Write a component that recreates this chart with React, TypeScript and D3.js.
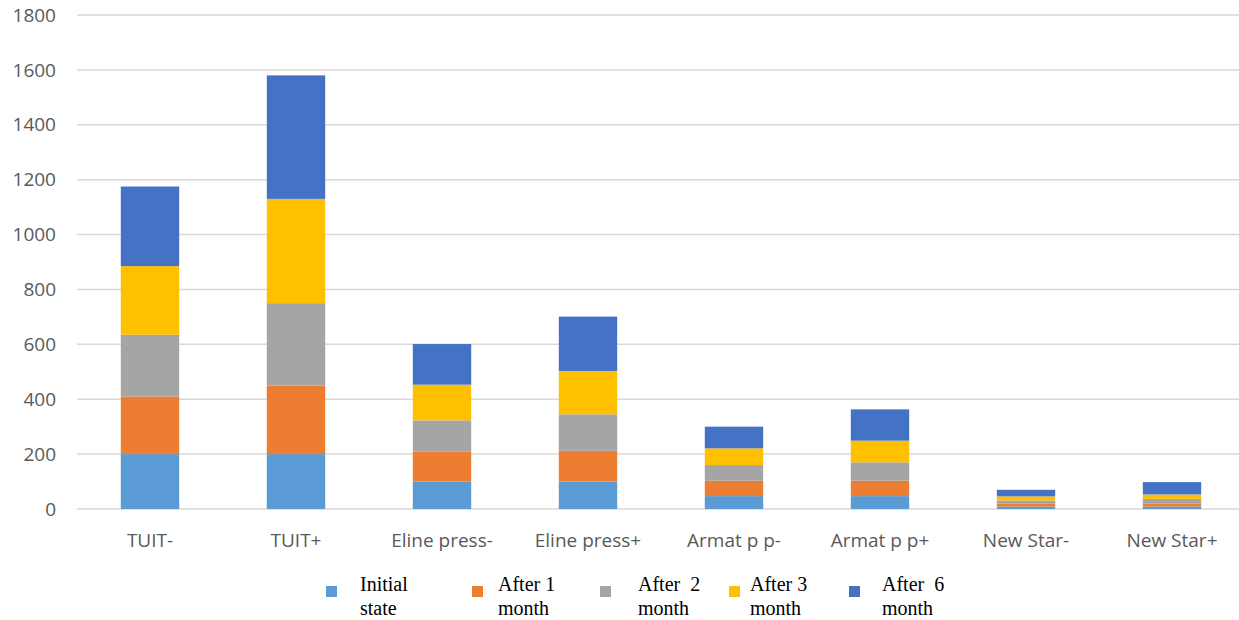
import React from "react";
import * as d3 from "d3";

const categories = ["TUIT-", "TUIT+", "Eline press-", "Eline press+", "Armat p p-", "Armat p p+", "New Star-", "New Star+"];
const seriesNames = ["Initial state", "After 1 month", "After  2 month", "After 3 month", "After  6 month"];
const initialState = [200, 200, 100, 100, 47, 47, 9, 9];
const after1 = [210, 250, 110, 112, 56, 56, 10, 10];
const after2 = [225, 300, 113, 133, 57, 67, 12, 18];
const after3 = [250, 380, 130, 158, 61, 79, 15, 16];
const after6 = [290, 450, 148, 198, 79, 114, 24, 45];
const yTicks = [0, 200, 400, 600, 800, 1000, 1200, 1400, 1600, 1800];
const colors = ["#5B9BD5", "#ED7D31", "#A5A5A5", "#FFC000", "#4472C4"];
const legendLines = [["Initial", "state"], ["After 1", "month"], ["After  2", "month"], ["After 3", "month"], ["After  6", "month"]];

export default function App() {
  const W = 1239, H = 620;
  const seriesVals = [initialState, after1, after2, after3, after6];
  const rows = categories.map((c, i) => {
    const r: any = { cat: c };
    seriesNames.forEach((s, j) => (r[s] = seriesVals[j][i]));
    return r;
  });
  const stack = d3.stack<any>().keys(seriesNames)(rows);
  const x = d3.scaleBand().domain(categories).range([77, 1245]).paddingInner(0.6).paddingOuter(0.3);
  const y = d3.scaleLinear().domain([0, 1800]).range([509, 15]);
  const legendX = [326, 472, 600, 729, 849];
  const legendTextX = [360, 498, 638, 750, 882];

  return (
    <svg width={W} height={H} style={{ position: "absolute", left: 0, top: 0, background: "#fff" }}>
      {yTicks.map((t) => (
        <g key={t}>
          <line x1={77} x2={1239} y1={y(t)} y2={y(t)} stroke="#d9d9d9" strokeWidth={1.5} />
          <text x={56} y={y(t)} dy="0.35em" textAnchor="end" fontFamily="Open Sans, sans-serif" fontSize={19} fill="#595959">
            {t}
          </text>
        </g>
      ))}
      {stack.map((s, si) => (
        <g key={si} fill={colors[si]}>
          {s.map((d, i) => (
            <rect key={i} x={x(categories[i])!} width={x.bandwidth()} y={y(d[1])} height={y(d[0]) - y(d[1])} />
          ))}
        </g>
      ))}
      {categories.map((c) => (
        <text key={c} x={x(c)! + x.bandwidth() / 2} y={547} textAnchor="middle" fontFamily="Open Sans, sans-serif" fontSize={19} fill="#595959">
          {c}
        </text>
      ))}
      {legendLines.map((ln, i) => (
        <g key={i}>
          <rect x={legendX[i]} y={586} width={11} height={11} fill={colors[i]} />
          <text x={legendTextX[i]} y={591} fontFamily="Liberation Serif, serif" fontSize={20} fill="#000" style={{ whiteSpace: "pre" }}>
            {ln[0]}
          </text>
          <text x={legendTextX[i]} y={615} fontFamily="Liberation Serif, serif" fontSize={20} fill="#000">
            {ln[1]}
          </text>
        </g>
      ))}
    </svg>
  );
}
